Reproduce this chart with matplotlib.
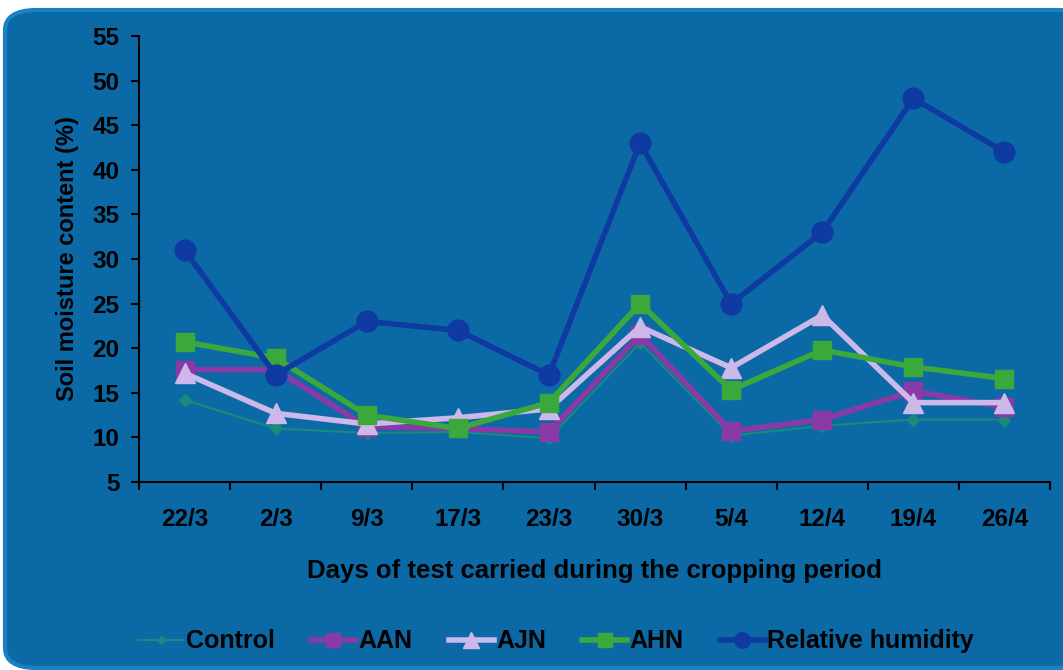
import matplotlib
matplotlib.use("Agg")
import matplotlib.pyplot as plt
from matplotlib.patches import FancyBboxPatch

days = ["22/3", "2/3", "9/3", "17/3", "23/3", "30/3", "5/4", "12/4", "19/4", "26/4"]

control = [14.2, 11.0, 10.5, 10.6, 9.9, 20.6, 10.2, 11.3, 12.0, 12.0]
aan = [17.6, 17.6, 11.2, 11.0, 10.6, 21.5, 10.7, 12.0, 15.2, 13.4]
ajn = [17.2, 12.7, 11.5, 12.2, 13.2, 22.4, 17.8, 23.7, 13.9, 13.9]
ahn = [20.7, 18.9, 12.5, 11.0, 13.9, 25.0, 15.3, 19.8, 17.9, 16.6]
humidity = [31.0, 17.0, 23.0, 22.0, 17.0, 43.0, 25.0, 33.0, 48.0, 42.0]

bg = "#0b6aa6"
font = "Liberation Sans"

fig = plt.figure(figsize=(10.63, 6.70), dpi=100, facecolor="white")

# rounded blue panel behind everything
panel = FancyBboxPatch((5 / 1063, 2 / 670), 1.02, 658 / 670,
                       boxstyle="round,pad=0,rounding_size=0.03",
                       transform=fig.transFigure, facecolor=bg,
                       edgecolor="#1a82c2", linewidth=3, zorder=-10)
fig.patches.append(panel)

ax = fig.add_axes([139 / 1063, 1 - 482 / 670, 911 / 1063, 446 / 670])
ax.set_facecolor("none")

x = list(range(len(days)))
ax.plot(x, control, color="#1a8a7a", lw=1.5, marker="D", ms=6, label="Control", zorder=2)
ax.plot(x, aan, color="#8a3aa6", lw=4, marker="s", ms=13, label="AAN", zorder=3)
ax.plot(x, ajn, color="#cdb8ea", lw=4, marker="^", ms=15, label="AJN", zorder=4)
ax.plot(x, ahn, color="#3aa83a", lw=4, marker="s", ms=13, label="AHN", zorder=5)
ax.plot(x, humidity, color="#0f3aa2", lw=4, marker="o", ms=15, label="Relative humidity", zorder=6)

ax.set_xlim(-0.5, len(days) - 0.5)
ax.set_ylim(5, 55)
ax.set_yticks(range(5, 56, 5))
ax.set_xticks(x)
ax.set_xticklabels(days)
ax.set_xticks([i - 0.5 for i in range(len(days) + 1)], minor=True)
ax.tick_params(axis="x", which="major", length=0, pad=19)
ax.tick_params(axis="x", which="minor", length=6, width=1.5, direction="out", color="black")
ax.tick_params(axis="y", length=6, width=1.5, direction="out", color="black", pad=8)

for lab in ax.get_xticklabels() + ax.get_yticklabels():
    lab.set_fontsize(17.5)
    lab.set_fontweight("bold")
    lab.set_family(font)

for s in ["top", "right"]:
    ax.spines[s].set_visible(False)
for s in ["left", "bottom"]:
    ax.spines[s].set_color("black")
    ax.spines[s].set_linewidth(1.5)

ax.set_ylabel("Soil moisture content (%)", fontsize=17, fontweight="bold",
              family=font, labelpad=10)
ax.set_xlabel("Days of test carried during the cropping period", fontsize=18.5,
              fontweight="bold", family=font, labelpad=20)

leg = ax.legend(loc="upper center", bbox_to_anchor=(0.458, -0.28), ncol=5, frameon=False,
                prop={"family": font, "weight": "bold", "size": 18},
                handlelength=1.8, handletextpad=0.1, columnspacing=1.45, markerscale=0.75)

fig.savefig("out.png", dpi=100, facecolor="white")
